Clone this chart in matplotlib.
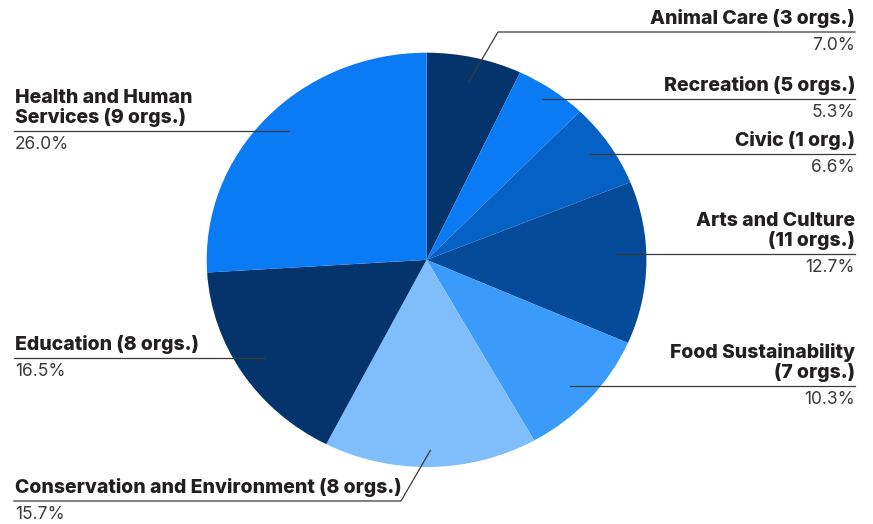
import numpy as np
import matplotlib
matplotlib.use('Agg')
import matplotlib.pyplot as plt
from matplotlib.lines import Line2D

W, H = 873, 524

# slices, clockwise from 12 o'clock
categories = ['Animal Care (3 orgs.)', 'Recreation (5 orgs.)', 'Civic (1 org.)',
              'Arts and Culture\n(11 orgs.)', 'Food Sustainability\n(7 orgs.)',
              'Conservation and Environment (8 orgs.)', 'Education (8 orgs.)',
              'Health and Human\nServices (9 orgs.)']
shares = [7.0, 5.3, 6.6, 12.7, 10.3, 15.7, 16.5, 26.0]
colors = ['#04346b', '#0a7bf4', '#0562c4', '#054b9a', '#3b9bfb', '#80bdfb', '#04346b', '#0a7bf4']

# label layout: side, underline y (px from top), elbow x for angled leaders
label_side = ['right', 'right', 'right', 'right', 'right', 'left', 'left', 'left']
underline_y = [32, 99, 154, 254, 386, 501, 358, 131]
elbow_x = [498, None, None, None, None, 401, None, None]
leader_r = [0.88, 0.92, 0.89, 0.86, 0.88, 0.92, 0.88, 0.86]

TITLE_C = '#231f20'
PCT_C = '#3a3a3a'
LINE_C = '#3a3a3a'
FONT = ['Inter', 'DejaVu Sans']

fig = plt.figure(figsize=(W / 100, H / 100), dpi=100)
pie_l, pie_r, pie_t, pie_b = 206.7, 646.4, 52.7, 467.0
ax = fig.add_axes([pie_l / W, 1 - pie_b / H, (pie_r - pie_l) / W, (pie_b - pie_t) / H])
wedges, _ = ax.pie(shares, colors=colors, startangle=90, counterclock=False,
                   wedgeprops=dict(linewidth=0), radius=1)
ax.set_aspect('auto')
ax.set_xlim(-1, 1)
ax.set_ylim(-1, 1)
ax.axis('off')


def fig_xy(px, py):
    return px / W, 1 - py / H


def line(xs, ys):
    fx = [x / W for x in xs]
    fy = [1 - y / H for y in ys]
    fig.add_artist(Line2D(fx, fy, color=LINE_C, lw=0.9, transform=fig.transFigure))


fig.canvas.draw()
for w, cat, val, side, uy, ex, r in zip(wedges, categories, shares, label_side,
                                        underline_y, elbow_x, leader_r):
    mid = np.deg2rad((w.theta1 + w.theta2) / 2)
    sx, sy = ax.transData.transform((r * np.cos(mid), r * np.sin(mid)))
    sy = H - sy
    if side == 'right':
        x_text = 855
        end_x = x_text
        ha = 'right'
    else:
        x_text = 15
        end_x = x_text - 1
        ha = 'left'
    if ex is not None:
        line([sx, ex, end_x], [sy, uy, uy])
    else:
        line([sx, end_x], [uy, uy])
    tx, ty = fig_xy(x_text, uy - 8)
    fig.text(tx, ty, cat, ha=ha, va='baseline', fontsize=14, fontweight='heavy',
             color=TITLE_C, family=FONT, linespacing=1.05)
    px_, py_ = fig_xy(x_text, uy + 18)
    fig.text(px_, py_, f'{val:.1f}%', ha=ha, va='baseline', fontsize=12.5,
             color=PCT_C, family=FONT)

fig.savefig('out.png', dpi=100)
